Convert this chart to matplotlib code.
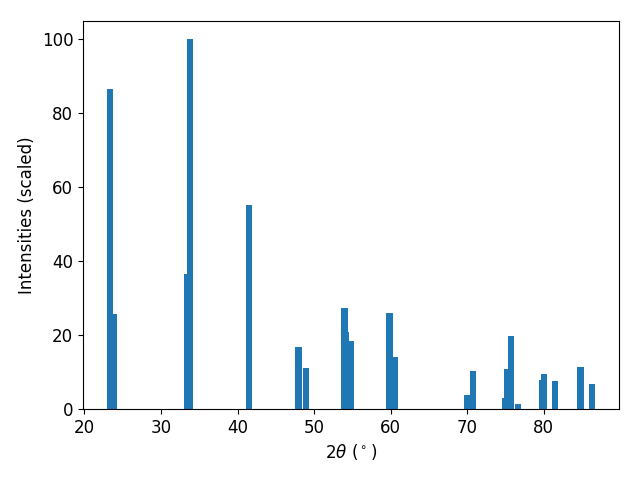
import matplotlib
matplotlib.use('Agg')
import matplotlib.pyplot as plt

# Peak positions (2theta, degrees) and scaled intensities
two_theta = [23.39, 23.87, 33.38, 33.74, 41.52, 47.97, 48.97,
             53.99, 54.22, 54.85, 59.87, 60.52, 69.97, 70.75,
             74.97, 75.23, 75.75, 76.67, 79.84, 80.09, 81.54,
             84.83, 86.28]
intensity = [86.7, 25.7, 36.6, 100.0, 55.3, 16.8, 11.1,
             27.4, 20.9, 18.4, 26.0, 14.1, 3.8, 10.3,
             3.0, 10.8, 19.8, 1.4, 7.9, 9.5, 7.6,
             11.4, 6.8]

plt.rcParams['font.size'] = 12

fig, ax = plt.subplots(figsize=(6.4, 4.8), dpi=100)
ax.bar(two_theta, intensity, width=0.8)
ax.set_xlabel(r'2$\theta$ ($^\circ$)')
ax.set_ylabel('Intensities (scaled)')
fig.subplots_adjust(left=83 / 640, right=619 / 640, bottom=1 - 409 / 480, top=1 - 21 / 480)
fig.savefig('out.png')
